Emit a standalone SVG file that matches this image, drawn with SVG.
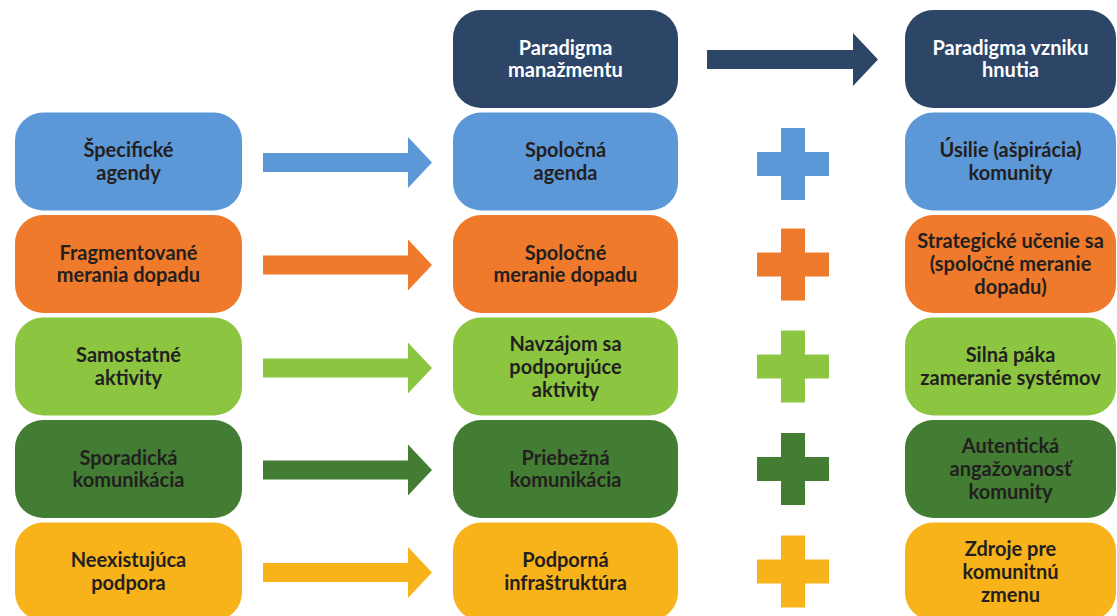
<svg xmlns="http://www.w3.org/2000/svg" width="1117" height="616" viewBox="0 0 1117 616">
<style>
text{font-family:Lato,"Open Sans","Liberation Sans",sans-serif;font-weight:bold;font-size:20px;text-anchor:middle;fill:#231f20}
text.w{fill:#ffffff}
.navy{fill:#2d4566}.blue{fill:#5c98d7}.orange{fill:#ef7a2b}.lgreen{fill:#8cc540}.dgreen{fill:#427d33}.yellow{fill:#f8b21a}
</style>
<defs>
<path id="arr" d="M0,-9.5 H145 V-25.5 L169,0 L145,25.5 V9.5 H0 Z"/>
<path id="plus" d="M-12,-36 H12 V-12 H36 V12 H12 V36 H-12 V12 H-36 V-12 H-12 Z"/>
</defs>
<g id="connectors">
<path class="navy" d="M707,50 H853 V33 L878,59.5 L853,86 V69 H707 Z"/>
<use href="#arr" x="263" y="162.5" class="blue"/>
<use href="#arr" x="263" y="265" class="orange"/>
<use href="#arr" x="263" y="368" class="lgreen"/>
<use href="#arr" x="263" y="470" class="dgreen"/>
<use href="#arr" x="263" y="572.5" class="yellow"/>
<use href="#plus" x="793" y="164" class="blue"/>
<use href="#plus" x="793" y="264.5" class="orange"/>
<use href="#plus" x="793" y="366.5" class="lgreen"/>
<use href="#plus" x="793" y="469" class="dgreen"/>
<use href="#plus" x="793" y="571.5" class="yellow"/>
</g>
<g id="mid-0"><rect x="453" y="10" width="225" height="98" rx="28" class="navy"/><text class="w" x="565.5" y="54.5">Paradigma</text><text class="w" x="565.5" y="77">manažmentu</text></g>
<g id="right-0"><rect x="905" y="10" width="211" height="98" rx="28" class="navy"/><text class="w" x="1010.5" y="54.5">Paradigma vzniku</text><text class="w" x="1010.5" y="77">hnutia</text></g>

<g id="left-1"><rect x="15" y="112.5" width="227" height="98" rx="28" class="blue"/><text x="128.5" y="157">Špecifické</text><text x="128.5" y="179.5">agendy</text></g>
<g id="mid-1"><rect x="453" y="112.5" width="225" height="98" rx="28" class="blue"/><text x="565.5" y="157">Spoločná</text><text x="565.5" y="179.5">agenda</text></g>
<g id="right-1"><rect x="905" y="112.5" width="211" height="98" rx="28" class="blue"/><text x="1010.5" y="157">Úsilie (ašpirácia)</text><text x="1010.5" y="179.5">komunity</text></g>

<g id="left-2"><rect x="15" y="215" width="227" height="98" rx="28" class="orange"/><text x="128.5" y="259.5">Fragmentované</text><text x="128.5" y="282">merania dopadu</text></g>
<g id="mid-2"><rect x="453" y="215" width="225" height="98" rx="28" class="orange"/><text x="565.5" y="259.5">Spoločné</text><text x="565.5" y="282">meranie dopadu</text></g>
<g id="right-2"><rect x="905" y="215" width="211" height="98" rx="28" class="orange"/><text x="1010.5" y="248">Strategické učenie sa</text><text x="1010.5" y="271">(spoločné meranie</text><text x="1010.5" y="294">dopadu)</text></g>

<g id="left-3"><rect x="15" y="317.5" width="227" height="98" rx="28" class="lgreen"/><text x="128.5" y="362">Samostatné</text><text x="128.5" y="384.5">aktivity</text></g>
<g id="mid-3"><rect x="453" y="317.5" width="225" height="98" rx="28" class="lgreen"/><text x="565.5" y="350.5">Navzájom sa</text><text x="565.5" y="373.5">podporujúce</text><text x="565.5" y="396.5">aktivity</text></g>
<g id="right-3"><rect x="905" y="317.5" width="211" height="98" rx="28" class="lgreen"/><text x="1010.5" y="362">Silná páka</text><text x="1010.5" y="384.5">zameranie systémov</text></g>

<g id="left-4"><rect x="15" y="420" width="227" height="98" rx="28" class="dgreen"/><text x="128.5" y="464.5">Sporadická</text><text x="128.5" y="487">komunikácia</text></g>
<g id="mid-4"><rect x="453" y="420" width="225" height="98" rx="28" class="dgreen"/><text x="565.5" y="464.5">Priebežná</text><text x="565.5" y="487">komunikácia</text></g>
<g id="right-4"><rect x="905" y="420" width="211" height="98" rx="28" class="dgreen"/><text x="1010.5" y="453">Autentická</text><text x="1010.5" y="476">angažovanosť</text><text x="1010.5" y="499">komunity</text></g>

<g id="left-5"><rect x="15" y="522.5" width="227" height="98" rx="28" class="yellow"/><text x="128.5" y="567">Neexistujúca</text><text x="128.5" y="589.5">podpora</text></g>
<g id="mid-5"><rect x="453" y="522.5" width="225" height="98" rx="28" class="yellow"/><text x="565.5" y="567">Podporná</text><text x="565.5" y="589.5">infraštruktúra</text></g>
<g id="right-5"><rect x="905" y="522.5" width="211" height="98" rx="28" class="yellow"/><text x="1010.5" y="555.5">Zdroje pre</text><text x="1010.5" y="578.5">komunitnú</text><text x="1010.5" y="601.5">zmenu</text></g>
</svg>
